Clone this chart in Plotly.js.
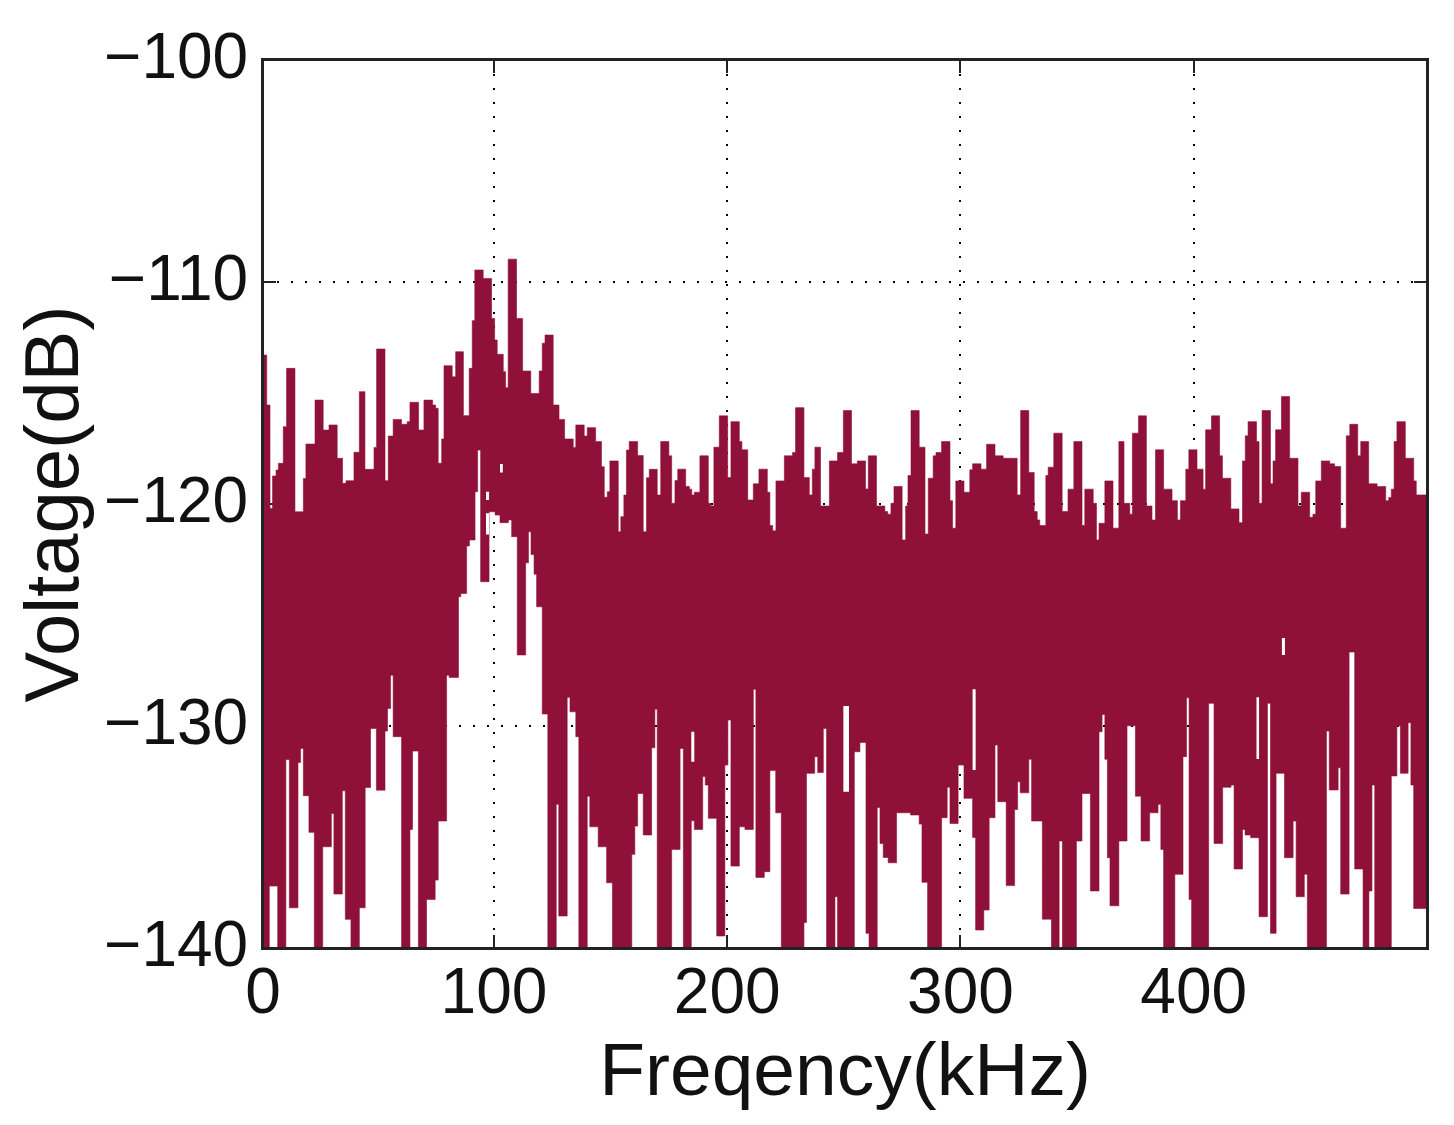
<!DOCTYPE html>
<html>
<head>
<meta charset="utf-8">
<script src="https://cdn.plot.ly/plotly-3.0.1.min.js"></script>
<style>html,body{margin:0;padding:0;background:#fff}#chart{width:1454px;height:1125px}</style>
</head>
<body>
<div id="chart"></div>
<script>
// Upper edge of the spectrum: frequency (kHz) and voltage (dB)
const upperFreq = [1,2.6,4,5.1,6.6,7.6,9.7,11.1,14.7,18.3,19.4,23.3,26.8,29.3,32.8,35.1,36.6,40,42.3,44.7,48.6,49.7,53.3,54.7,56.8,60.4,62.8,64,67.7,70,73.7,75,76.1,77.6,78.6,82.1,83.6,86.9,89.4,90.7,91.8,95.4,99,100.3,101.4,104,105,106.1,109.7,112.3,115.8,119.4,120.7,121.9,125.4,127.9,130.3,134,135.1,138.7,140,143.6,146.1,147.3,148.6,149.7,153.3,154.4,155.7,156.8,158,161.6,164,165.4,166.6,170,
171.5,175,176.2,177.6,178.8,182.2,183.8,184.8,185.9,188.3,191.9,193,194.3,196.6,200.2,201.6,205.2,206.3,208.8,211.2,213.6,217.2,218.3,219.5,220.9,224.5,228,229.3,232.9,235.2,236.5,237.6,240,243.8,247.3,249.8,253.3,255.8,259.3,260.5,264,267.6,268.8,270.2,271.5,275,276.5,277.5,278.8,282.3,284.8,286.2,288.3,289.5,291.9,295.5,296.6,298,301.5,304,305.2,308.8,311.2,314.8,318.3,324.3,325.8,329.3,331.6,332.9,
334,336.6,337.6,340,343.6,346.1,348.6,352.1,353.3,356.9,358.3,359.4,361.9,365.4,367.9,370.1,372.6,373.7,376.3,379.7,382.1,383.6,387.1,390.7,393,394.3,396.6,397.9,401.4,404,405.1,407.6,411.1,412.3,415.9,419.4,420.9,422.1,423.3,426.9,428,429.3,432.9,434,435.1,437.6,441.1,444.7,446.1,449.7,451.1,452.3,454.7,458.3,460.4,463,465.4,466.9,470.3,471.6,475,478.6,482.3,483.6,484.7,485.9,487.1,490.7,494.3,495.4,500];
const upperVolt = [-113.29,-115.54,-120.2,-118.74,-118.47,-118.17,-116.52,-113.89,-120.35,-118.85,-117.3,-115.32,-116.67,-116.44,-117.94,-119.07,-118.95,-117.67,-114.94,-118.44,-117.45,-113.02,-118.95,-116.94,-116.19,-116.41,-116.29,-115.42,-116.67,-115.32,-115.54,-115.69,-118.17,-117.07,-113.77,-114.27,-113.14,-116.02,-113.89,-111.74,-109.46,-109.84,-111.64,-112.61,-113.26,-114.04,-114.76,-108.97,-111.64,-114.01,-115.02,-114.01,-112.76,-112.39,-115.54,-116.19,-117.07,-117.45,-116.44,-116.94,-116.56,-117.19,-118.32,-119.7,-119.45,-118.06,-121.25,-120.57,-119.6,-117.57,-117.19,-117.82,-121.25,-118.82,-118.44,-119.6,
-117.19,-117.83,-119.97,-118.94,-118.43,-119.21,-119.33,-119.59,-119.47,-117.83,-119.97,-120.09,-117.44,-116.03,-118.81,-116.29,-117.19,-117.56,-119.82,-119.09,-118.43,-119.47,-120.97,-121.21,-118.96,-117.83,-117.68,-115.66,-118.81,-119.59,-118.43,-117.44,-120.09,-118.06,-117.68,-115.79,-118.19,-118.06,-119.32,-117.83,-120.09,-120.34,-120.46,-119.97,-119.21,-121.62,-120.09,-118.72,-115.79,-117.44,-121.35,-118.84,-117.83,-117.68,-117.19,-119.85,-121.09,-118.96,-119.47,-118.46,-118.19,-118.43,-117.31,-117.83,-117.94,-119.59,-115.79,-118.58,-120.34,-120.72,
-120.97,-118.72,-118.34,-116.81,-120.34,-119.33,-117.19,-120.97,-119.33,-119.97,-121.62,-120.87,-118.96,-121.09,-117.19,-119.97,-120.46,-116.81,-116.03,-120.09,-120.72,-117.56,-119.33,-119.85,-120.72,-119.85,-118.43,-117.56,-118.43,-119.33,-116.66,-116.03,-117.83,-118.84,-120.22,-120.84,-118.06,-116.93,-116.29,-117.19,-119.97,-115.79,-119.09,-118.06,-116.66,-115.16,-117.94,-120.09,-119.47,-120.6,-120.46,-118.96,-118.06,-118.19,-118.31,-121.09,-116.93,-116.41,-117.83,-117.19,-119.09,-119.21,-119.85,-119.71,-119.33,-117.19,-116.29,-117.94,-118.96,-119.59,-119.59];

// Lower edge of the spectrum
const lowerFreq = [1,3.7,7.3,10.8,12.3,16,17.1,18.3,20.7,23,26.6,30.3,31.4,35,36.3,38.7,42.3,44.8,47.1,49.6,53.3,54.4,55.7,56.8,60.4,64,65.1,67.6,71.1,74.8,76.1,79.7,80.8,84.8,85.8,88.3,89.5,91.9,93,94.3,97.9,100.5,102.6,106.2,107.6,110,113.6,114.8,115.9,117.2,118.3,120.7,123.1,126.7,127.8,131.4,132.6,135.1,136.4,140,141.1,144.7,148.3,150.8,159.1,160.4,161.6,164,167.6,169,
170,176.2,179.8,181.2,184.6,185.9,189.5,190.6,191.9,195.5,199,200.3,201.6,205.2,207.6,211.2,212.3,215.9,218.3,220.8,223.2,232.9,234,237.5,238.8,241.2,242.6,246.2,247.3,254.5,256.9,259.5,260.8,264.3,265.5,266.9,269,272.6,278.6,282.3,283.5,285.9,291.9,294.3,295.5,299,301.5,305.2,306.5,310,312.3,314.8,316,319.6,323.2,324.5,325.6,329.3,330.5,335.1,
339,342.3,343.7,349.7,352.1,355.7,359.4,360.7,361.9,363,364.1,367.9,371.4,375,377.4,381.1,384.7,385.9,387.1,391.9,395.4,396.9,398,399.1,406.4,408.7,412.4,416,417.3,420.9,422,424.4,428,431.6,432.9,435.3,438.9,442.6,443.9,447.4,448.7,456.9,458.1,461.9,463,466.6,469,472.6,475.1,476.4,477.6,484.7,487.1,488.6,491.9,493.1,494.3,500];
const lowerVolt = [-140,-137.21,-140,-131.51,-138.19,-131.64,-131.01,-133.14,-134.79,-140,-135.44,-133.94,-137.57,-132.92,-138.71,-140,-138.19,-132.77,-130.11,-132.89,-130.23,-129.21,-127.71,-130.48,-140,-134.66,-131.13,-140,-137.81,-136.94,-134.28,-127.71,-127.81,-124.18,-124.03,-121.89,-121.62,-119.45,-117.57,-123.5,-120.35,-120.5,-120.84,-120.72,-121.47,-126.8,-122.65,-121.25,-122.27,-123.16,-124.63,-129.46,-140,-133.53,-138.56,-128.71,-129.36,-130.48,-140,-133.16,-134.54,-135.44,-137.06,-140,-135.78,-134.51,-133.04,-134.91,-130.98,-129.24,
-140,-135.56,-131.01,-140,-134.27,-134.66,-132.28,-132.66,-134.16,-139.46,-131.76,-129.73,-136.31,-134.54,-134.66,-128.34,-136.82,-136.56,-132.01,-133.91,-140,-138.85,-132.13,-131.38,-132.1,-130.11,-140,-137.69,-140,-131.16,-130.74,-139.34,-140,-133.67,-135.29,-135.92,-136.16,-133.91,-134.01,-134.42,-137.04,-140,-134.13,-132.76,-134.39,-131.76,-133.26,-135.02,-139.19,-138.29,-134.13,-130.86,-133.41,-137.19,-133.76,-132.51,-133.01,-131.5,-134.28,-138.7,
-140,-135.18,-140,-135.18,-133.04,-137.43,-130.26,-129.48,-131.5,-135.93,-138.1,-135.18,-129.99,-133.16,-135.18,-133.91,-133.53,-135.56,-140,-136.68,-131.38,-128.73,-137.81,-140,-128.98,-135.29,-132.76,-132.66,-136.44,-134.66,-134.91,-135.03,-138.59,-128.98,-139.34,-132.13,-135.93,-134.28,-137.69,-136.68,-140,-130.23,-132.88,-131.88,-137.57,-126.67,-136.44,-140,-137.43,-132.66,-140,-132.25,-129.99,-132.13,-129.85,-132.66,-138.22,-138.22];

// Small gaps inside the filled band
const gapFreqStart = [96.6,96.6,102.6,184.6,249.8,305.2,426.9,437.8];
const gapFreqEnd   = [97.9,97.9,103.8,185.9,252.2,306.5,428.0,439.1];
const gapVoltTop   = [-119.45,-120.42,-118.2,-130.26,-129.1,-128.34,-128.71,-126.04];
const gapVoltEnd   = [-119.82,-121.37,-118.58,-131.61,-132.96,-131.98,-131.49,-126.8];

// Axis labels
const xTickVals = [1,100,200,300,400];
const xTickText = ['0','100','200','300','400'];
const yTickVals = [-100,-110,-120,-130,-140];

const gapX = [], gapY = [];
gapFreqStart.forEach((f, i) => {
  gapX.push(f, gapFreqEnd[i], gapFreqEnd[i], f, f, null);
  gapY.push(gapVoltTop[i], gapVoltTop[i], gapVoltEnd[i], gapVoltEnd[i], gapVoltTop[i], null);
});

const crimson = '#8f1038';
const ink = '#111111';
const face = 'Liberation Sans, Arial, sans-serif';

const traces = [
  {x: lowerFreq, y: lowerVolt, mode: 'lines', line: {shape: 'hv', color: crimson, width: 0.6}, hoverinfo: 'skip', showlegend: false},
  {x: upperFreq, y: upperVolt, mode: 'lines', line: {shape: 'hv', color: crimson, width: 0.6}, fill: 'tonexty', fillcolor: crimson, hoverinfo: 'skip', showlegend: false},
  {x: gapX, y: gapY, mode: 'lines', line: {color: '#ffffff', width: 0}, fill: 'toself', fillcolor: '#ffffff', hoverinfo: 'skip', showlegend: false}
];

const sharedAxis = {
  showgrid: true, gridcolor: '#000000', gridwidth: 2, griddash: '2px,12px',
  showline: true, linecolor: '#222222', linewidth: 2, mirror: 'ticks', layer: 'below traces',
  ticks: 'inside', ticklen: 13, tickwidth: 2, tickcolor: '#222222',
  zeroline: false, tickfont: {family: face, size: 64, color: ink}, automargin: false
};

const layout = {
  width: 1454, height: 1125,
  margin: {l: 263, r: 27, t: 60, b: 177},
  paper_bgcolor: '#ffffff', plot_bgcolor: '#ffffff',
  showlegend: false,
  shapes: [{type: 'rect', xref: 'paper', yref: 'paper', x0: 0, x1: 1, y0: 0, y1: 1, layer: 'above', line: {color: '#222222', width: 2}}],
  xaxis: Object.assign({}, sharedAxis, {
    range: [1, 500], tickmode: 'array', tickvals: xTickVals, ticktext: xTickText,
    ticklabelstandoff: -14,
    title: {text: 'Freqency(kHz)', font: {family: face, size: 75, color: ink}, standoff: 0}
  }),
  yaxis: Object.assign({}, sharedAxis, {
    range: [-140, -100], tickmode: 'array', tickvals: yTickVals,
    ticklabelshift: -4,
    title: {text: 'Voltage(dB)', font: {family: face, size: 76, color: ink}, standoff: 0}
  })
};

Plotly.newPlot('chart', traces, layout, {displayModeBar: false, responsive: false});
</script>
</body>
</html>
